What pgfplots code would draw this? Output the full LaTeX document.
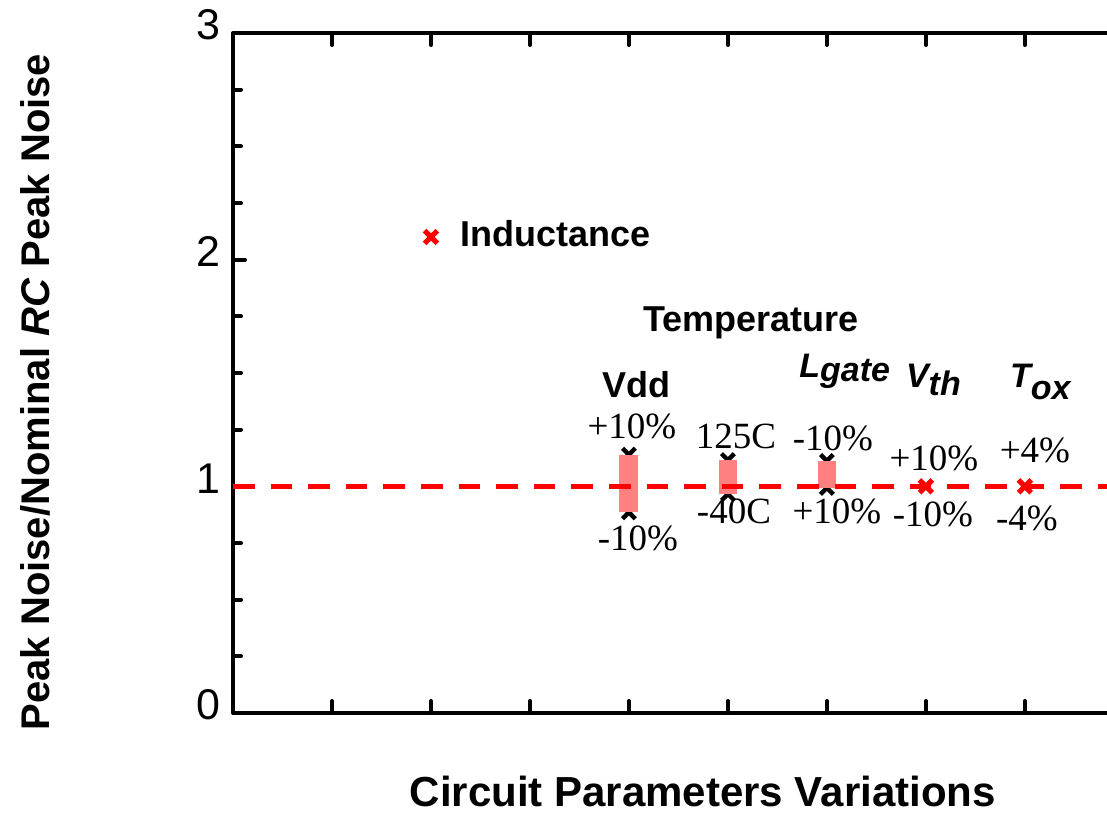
\documentclass[border=0pt]{standalone}
\usepackage{fontspec}
\setmainfont{Liberation Serif}
\setsansfont{Liberation Sans}
\usepackage{pgfplots}
\pgfplotsset{compat=1.18}
\newcommand\fs[1]{\fontsize{#1}{#1}\selectfont}
\definecolor{barpink}{RGB}{255,128,128}
\begin{document}
\begin{tikzpicture}
\begin{axis}[
  scale only axis, width=437pt, height=340pt,
  xmin=0, xmax=8.83, ymin=0, ymax=3,
  axis x line*=box, axis y line*=left,
  axis line style={line width=2pt},
  xtick={1,...,8}, xticklabels={},
  ytick={0,1,2,3}, minor y tick num=3,
  tick align=inside,
  major tick length=6pt, minor tick length=4pt,
  every tick/.style={black, line width=2pt, line cap=round},
  yticklabel style={font=\sffamily\fs{21.5}, yshift=4pt, xshift=-3pt},
  /pgf/number format/assume math mode=true,
  clip=false, clip mode=individual,
  xlabel={\sffamily\bfseries\fs{21}Circuit Parameters Variations},
  xlabel style={at={(axis description cs:0.5376,-0.1382)}, anchor=base},
  ylabel={\sffamily\bfseries\fs{20}Peak Noise/Nominal \textit{RC} Peak Noise},
  ylabel style={at={(axis description cs:-0.2094,0.472)}, anchor=base, rotate=0},
]
% black caps (ends of the variation ranges)
\addplot[only marks, mark=x, mark size=4.5pt, black, line width=2.2pt] coordinates {
  (4,1.140) (4,0.885) (5,1.116) (5,0.966) (6,1.112) (6,0.993)};
% variation ranges
\addplot[barpink, line width=9.5pt, line cap=butt] coordinates {(4,0.885) (4,1.140)};
\addplot[barpink, line width=9pt, line cap=butt] coordinates {(5,0.966) (5,1.116)};
\addplot[barpink, line width=9pt, line cap=butt] coordinates {(6,0.993) (6,1.112)};
% nominal RC reference
\addplot[red, line width=2.5pt, dash pattern=on 10.8pt off 8pt] coordinates {(0,1) (8.83,1)};
% single points
\addplot[only marks, mark=x, mark size=4.5pt, red, line width=2.6pt] coordinates {
  (2,2.10) (7,1.0) (8,1.0)};
% labels
\node[font=\sffamily\bfseries\fs{18}, anchor=base west] at (axis cs:2.222,2.056) {Inductance};
\node[font=\sffamily\bfseries\fs{18}, anchor=base] at (axis cs:5.232,1.685) {Temperature};
\node[font=\sffamily\bfseries\fs{18}, anchor=base] at (axis cs:4.08,1.39) {Vdd};
\node[font=\sffamily\bfseries\itshape\fs{17}, anchor=base] at (axis cs:6.18,1.478) {L\raisebox{-1.6pt}{gate}};
\node[font=\sffamily\bfseries\itshape\fs{17}, anchor=base] at (axis cs:7.076,1.438) {V\raisebox{-4pt}{th}};
\node[font=\sffamily\bfseries\itshape\fs{17}, anchor=base] at (axis cs:8.157,1.438) {T\raisebox{-6pt}{ox}};
\node[font=\fs{18.5}, anchor=base] at (axis cs:4.030,1.213) {+10\%};
\node[font=\fs{18.5}, anchor=base] at (axis cs:4.091,0.719) {-10\%};
\node[font=\fs{18.5}, anchor=base] at (axis cs:5.081,1.169) {125C};
\node[font=\fs{18.5}, anchor=base] at (axis cs:5.061,0.838) {-40C};
\node[font=\fs{18.5}, anchor=base] at (axis cs:6.061,1.160) {-10\%};
\node[font=\fs{18.5}, anchor=base] at (axis cs:6.101,0.838) {+10\%};
\node[font=\fs{18.5}, anchor=base] at (axis cs:7.081,1.072) {+10\%};
\node[font=\fs{18.5}, anchor=base] at (axis cs:7.071,0.821) {-10\%};
\node[font=\fs{18.5}, anchor=base] at (axis cs:8.101,1.103) {+4\%};
\node[font=\fs{18.5}, anchor=base] at (axis cs:8.020,0.807) {-4\%};
\coordinate (o) at (rel axis cs:0,0);
\end{axis}
\pgfresetboundingbox
\path[use as bounding box] (o) ++(-116.5pt,-53pt) rectangle ++(553.5pt,409.5pt);
\end{tikzpicture}
\end{document}
